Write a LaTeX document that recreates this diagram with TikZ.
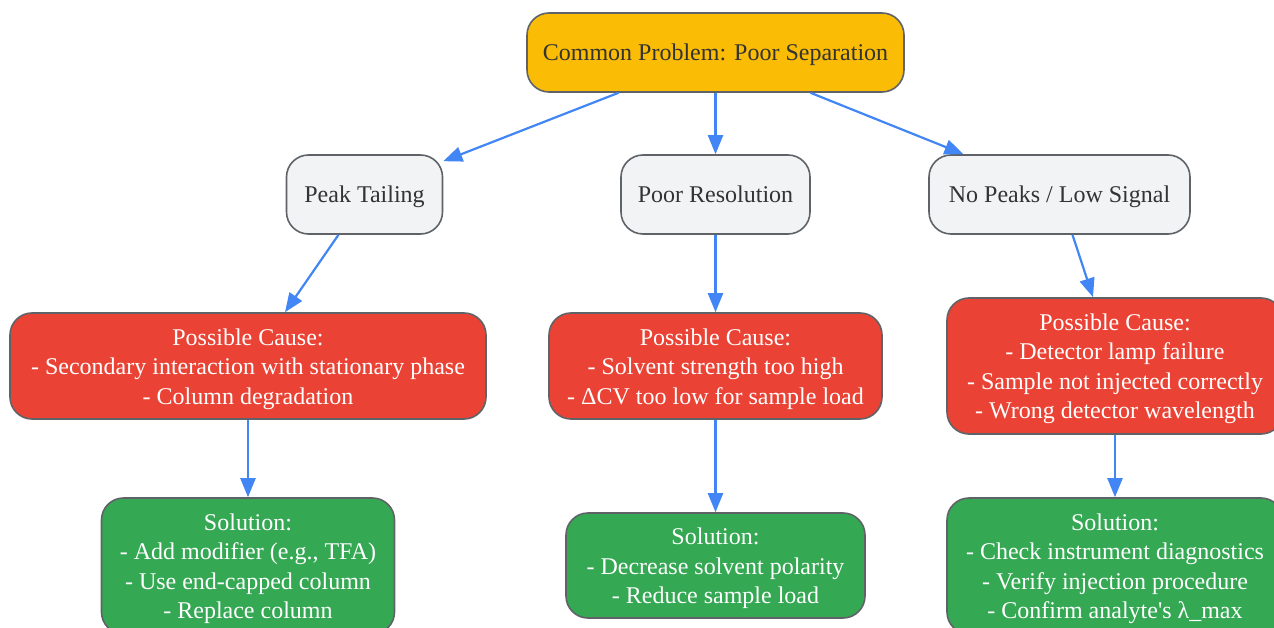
\documentclass[tikz,border=0pt]{standalone}
\usepackage{fontspec}
\newfontfamily\libserif{Liberation Serif}
\usetikzlibrary{arrows.meta,calc}
\definecolor{cyellow}{HTML}{FBBC05}
\definecolor{cgray}{HTML}{F1F3F4}
\definecolor{cred}{HTML}{EA4335}
\definecolor{cgreen}{HTML}{34A853}
\definecolor{cborder}{HTML}{5F6368}
\definecolor{carrow}{HTML}{4285F4}
\definecolor{ctext}{HTML}{333333}
\tikzset{
  box/.style={draw=cborder, line width=1.6pt, rounded corners=22pt, align=center,
    inner sep=0pt, text height=21pt, text depth=4pt, font=\libserif\fontsize{24}{29.5}\selectfont},
  lines3/.style={text height=80pt},
  lines4/.style={text height=109.5pt},
  topbox/.style={box, fill=cyellow, text=ctext},
  probbox/.style={box, fill=cgray, text=ctext},
  causebox/.style={box, fill=cred, text=white},
  solbox/.style={box, fill=cgreen, text=white},
  conn/.style={draw=carrow, line width=2.2pt, -{Triangle[length=19pt,width=15pt]}, color=carrow},
}
\begin{document}
\begin{tikzpicture}[x=1pt,y=-1pt]
\useasboundingbox (0,0) rectangle (1274,628);
\node[topbox, minimum width=377pt, minimum height=79pt] (top) at (715.5,52.5) {Common Problem: Poor Separation};
\node[probbox, minimum width=156pt, minimum height=79pt] (pt) at (364.5,194.5) {Peak Tailing};
\node[probbox, minimum width=189pt, minimum height=79pt] (pr) at (715.5,194.5) {Poor Resolution};
\node[probbox, minimum width=261pt, minimum height=79pt] (np) at (1059.5,194.5) {No Peaks / Low Signal};
\node[causebox, lines3, minimum width=476pt, minimum height=106pt] (c1) at (248,366) {Possible Cause:\\- Secondary interaction with stationary phase\\- Column degradation};
\node[causebox, lines3, minimum width=333pt, minimum height=106pt] (c2) at (715.5,366) {Possible Cause:\\- Solvent strength too high\\- ΔCV too low for sample load};
\node[causebox, lines4, minimum width=336pt, minimum height=136pt] (c3) at (1115,366) {Possible Cause:\\- Detector lamp failure\\- Sample not injected correctly\\- Wrong detector wavelength};
\node[solbox, lines4, minimum width=293pt, minimum height=136pt] (s1) at (248,566) {Solution:\\- Add modifier (e.g., TFA)\\- Use end-capped column\\- Replace column};
\node[solbox, lines3, minimum width=299pt, minimum height=105pt] (s2) at (715.5,565.5) {Solution:\\- Decrease solvent polarity\\- Reduce sample load};
\node[solbox, lines4, minimum width=336pt, minimum height=136pt] (s3) at (1115,566) {Solution:\\- Check instrument diagnostics\\- Verify injection procedure\\- Confirm analyte's λ\_max};
\draw[conn] ([xshift=-97pt]top.south) -- ([shift={(0,7)}]pt.north east);
\draw[conn] (top.south) -- (pr.north);
\draw[conn] ([xshift=95pt]top.south) -- ([xshift=-96pt]np.north);
\draw[conn] ([xshift=-26pt]pt.south) -- ([xshift=37pt]c1.north);
\draw[conn] (pr.south) -- (c2.north);
\draw[conn] ([xshift=13pt]np.south) -- ([xshift=-22pt]c3.north);
\draw[conn] (c1.south) -- (s1.north);
\draw[conn] (c2.south) -- (s2.north);
\draw[conn] (c3.south) -- (s3.north);
\end{tikzpicture}
\end{document}
